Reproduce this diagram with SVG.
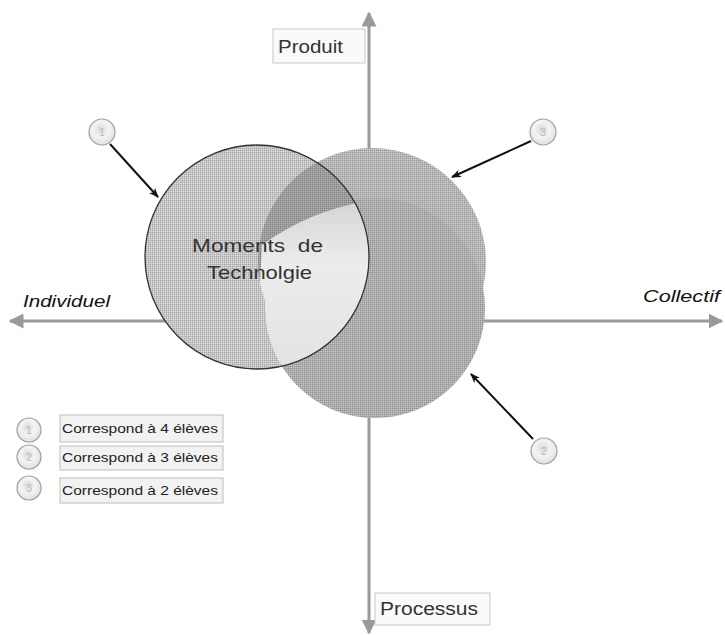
<svg xmlns="http://www.w3.org/2000/svg" width="725" height="635" viewBox="0 0 725 635">
<style>
.axis{stroke:#9a9a9a;stroke-width:3;fill:none}
.box{fill:#fafafa;stroke:#c8c8c8;stroke-width:1}
.lbl{font-family:"Liberation Sans",Arial,sans-serif;fill:#333}
.ital{font-family:"Liberation Sans",Arial,sans-serif;font-style:italic;font-size:16px;fill:#111}
.badge{fill:url(#bg);stroke:#a0a0a0;stroke-width:1.2}
.bnum{font-family:"Liberation Sans",Arial,sans-serif;font-size:11px;fill:#bbb;text-anchor:middle}
.conn{stroke:#111;stroke-width:2;fill:none}
.leg{fill:#f2f2f2;stroke:#bdbdbd;stroke-width:1}
.legt{font-family:"Liberation Sans",Arial,sans-serif;font-size:13px;fill:#222}
</style>
<defs>
<pattern id="p1" width="2" height="2" patternUnits="userSpaceOnUse"><rect width="2" height="2" fill="#c4c4c4"/><rect width="1" height="1" fill="#a6a6a6"/><rect x="1" y="1" width="1" height="1" fill="#dedede"/></pattern>
<pattern id="p3" width="2" height="2" patternUnits="userSpaceOnUse"><rect width="2" height="2" fill="#b4b4b4"/><rect width="1" height="1" fill="#9a9a9a"/><rect x="1" y="1" width="1" height="1" fill="#cfcfcf"/></pattern>
<pattern id="p2" width="2" height="2" patternUnits="userSpaceOnUse"><rect width="2" height="2" fill="#acacac"/><rect width="1" height="1" fill="#929292"/><rect x="1" y="1" width="1" height="1" fill="#c6c6c6"/></pattern>
<pattern id="pd" width="2" height="2" patternUnits="userSpaceOnUse"><rect width="2" height="2" fill="#9c9c9c"/><rect width="1" height="1" fill="#858585"/><rect x="1" y="1" width="1" height="1" fill="#b0b0b0"/></pattern>
<linearGradient id="wg" x1="0" y1="0" x2="0" y2="1"><stop offset="0" stop-color="#d4d4d4"/><stop offset="0.35" stop-color="#ececec"/><stop offset="1" stop-color="#e2e2e2"/></linearGradient>
<radialGradient id="bg" cx="0.45" cy="0.4" r="0.6"><stop offset="0" stop-color="#d8d8d8"/><stop offset="0.5" stop-color="#f4f4f4"/><stop offset="1" stop-color="#e0e0e0"/></radialGradient>
<clipPath id="c1"><circle cx="257" cy="257" r="112"/></clipPath>
<clipPath id="c3"><circle cx="372" cy="262" r="114"/><circle cx="375" cy="308" r="110"/></clipPath>
<marker id="ax" viewBox="0 0 10 10" refX="9" refY="5" markerWidth="5" markerHeight="5" orient="auto"><path d="M0,0 L10,5 L0,10 Z" fill="#9a9a9a"/></marker>
<marker id="ar" viewBox="0 0 10 10" refX="9" refY="5" markerWidth="5" markerHeight="5" orient="auto"><path d="M0,1 L10,5 L0,9 L3,5 Z" fill="#111"/></marker>
</defs>
<rect width="725" height="635" fill="#fff"/>
<g id="axes">
<line class="axis" x1="369" y1="330" x2="369" y2="13" marker-end="url(#ax)"/>
<line class="axis" x1="369" y1="300" x2="369" y2="633" marker-end="url(#ax)"/>
<line class="axis" x1="369" y1="321" x2="10" y2="321" marker-end="url(#ax)"/>
<line class="axis" x1="369" y1="321" x2="722" y2="321" marker-end="url(#ax)"/>
</g>
<g id="produit"><rect class="box" x="273" y="29" width="92" height="34"/><text class="lbl" x="278" y="53" font-size="18" textLength="65" lengthAdjust="spacingAndGlyphs">Produit</text></g>
<g id="processus"><rect class="box" x="375" y="593" width="115" height="32"/><text class="lbl" x="380" y="615" font-size="18" textLength="98" lengthAdjust="spacingAndGlyphs">Processus</text></g>
<text class="ital" x="23" y="307" textLength="87" lengthAdjust="spacingAndGlyphs">Individuel</text>
<text class="ital" x="643" y="302" textLength="77" lengthAdjust="spacingAndGlyphs">Collectif</text>
<g id="cercle3"><circle cx="372" cy="262" r="114" fill="url(#p3)"/></g>
<g id="cercle2"><circle cx="375" cy="308" r="110" fill="url(#p2)"/></g>
<g id="cercle1">
<circle cx="257" cy="257" r="112" fill="url(#p1)"/>
<g clip-path="url(#c1)"><g clip-path="url(#c3)">
<rect x="250" y="140" width="130" height="240" fill="url(#pd)"/>
<path d="M372,200 Q310,210 262,245 L255,380 L380,380 Z" fill="url(#wg)"/>
</g></g>
<circle cx="257" cy="257" r="112" fill="none" stroke="#333" stroke-width="1.3"/>
<text class="lbl" x="192" y="252" font-size="19" fill="#444" textLength="131" lengthAdjust="spacingAndGlyphs" style="white-space:pre">Moments  de</text>
<text class="lbl" x="207" y="279" font-size="19" fill="#444" textLength="105" lengthAdjust="spacingAndGlyphs">Technolgie</text>
</g>
<g id="badge1"><circle class="badge" cx="102" cy="132" r="13"/><text class="bnum" x="102" y="136">1</text></g>
<g id="badge3"><circle class="badge" cx="543" cy="132" r="13"/><text class="bnum" x="543" y="136">3</text></g>
<g id="badge2"><circle class="badge" cx="544" cy="451" r="13"/><text class="bnum" x="544" y="455">2</text></g>
<g id="connectors">
<line class="conn" x1="110" y1="144" x2="158" y2="197" marker-end="url(#ar)"/>
<line class="conn" x1="531" y1="141" x2="452" y2="177" marker-end="url(#ar)" stroke-width="2.5"/>
<line class="conn" x1="533" y1="439" x2="471" y2="374" marker-end="url(#ar)"/>
</g>
<g id="legend">
<g><circle class="badge" cx="29" cy="430" r="12"/><text class="bnum" x="29" y="434">1</text><rect class="leg" x="60" y="415" width="163" height="27"/><text class="legt" x="62" y="433" textLength="156" lengthAdjust="spacingAndGlyphs">Correspond à 4 élèves</text></g>
<g><circle class="badge" cx="29" cy="457" r="12"/><text class="bnum" x="29" y="461">2</text><rect class="leg" x="60" y="446" width="163" height="24" fill="#f8f8f8"/><text class="legt" x="62" y="462" textLength="156" lengthAdjust="spacingAndGlyphs">Correspond à 3 élèves</text></g>
<g><circle class="badge" cx="29" cy="488" r="12"/><text class="bnum" x="29" y="492">3</text><rect class="leg" x="60" y="478" width="163" height="25" fill="#f8f8f8"/><text class="legt" x="62" y="495" textLength="156" lengthAdjust="spacingAndGlyphs">Correspond à 2 élèves</text></g>
</g>
</svg>
